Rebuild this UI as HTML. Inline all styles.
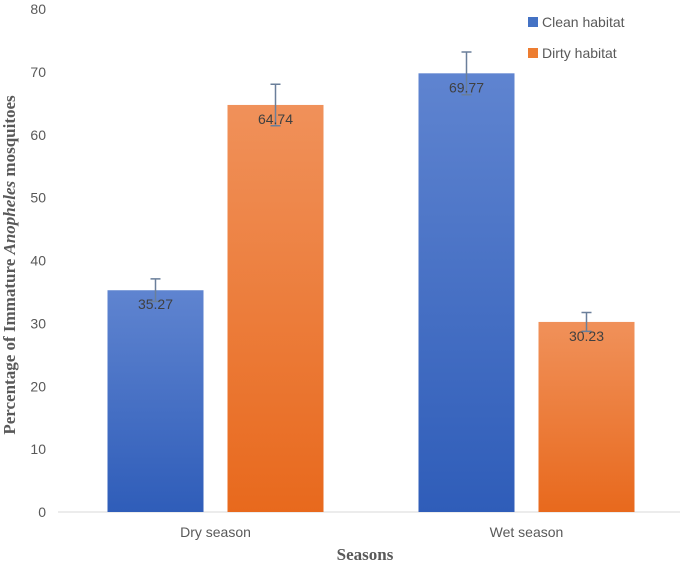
<!DOCTYPE html>
<html><head><meta charset="utf-8"><style>
body{margin:0;background:#fff;width:685px;height:569px;overflow:hidden}
svg text{font-family:"Liberation Sans",sans-serif}
</style></head><body>
<svg id="chart" width="685" height="569">
<defs>
<linearGradient id="gb" x1="0" y1="0" x2="0" y2="1"><stop offset="0" stop-color="#5f84d0"/><stop offset="1" stop-color="#2f5db9"/></linearGradient>
<linearGradient id="go" x1="0" y1="0" x2="0" y2="1"><stop offset="0" stop-color="#f0915a"/><stop offset="1" stop-color="#e8691d"/></linearGradient>
</defs>
<g id="plot"></g>
<text x="15" y="265" transform="rotate(-90 15 265)" text-anchor="middle" font-size="17" font-weight="bold" fill="#595959" style="font-family:'Liberation Serif',serif">Percentage of Immature <tspan font-style="italic">Anopheles</tspan> mosquitoes</text>
<text x="365" y="560" text-anchor="middle" font-size="17" font-weight="bold" fill="#595959" style="font-family:'Liberation Serif',serif">Seasons</text>
<rect x="528" y="17" width="10" height="10" fill="#4472c4"/>
<text x="542" y="27" font-size="14" fill="#595959">Clean habitat</text>
<rect x="528" y="48" width="10" height="10" fill="#ed7d31"/>
<text x="542" y="58" font-size="14" fill="#595959">Dirty habitat</text>
</svg>
<script>
const categories=["Dry season","Wet season"];
const cleanValues=[35.27,69.77];
const dirtyValues=[64.74,30.23];
const cleanErrors=[1.8,3.4];
const dirtyErrors=[3.3,1.5];
const yTicks=[0,10,20,30,40,50,60,70,80];
const NS="http://www.w3.org/2000/svg";
const g=document.getElementById('plot');
const y0=512,yTop=9,yMax=80,xL=58,xR=680;
const y=v=>y0-(y0-yTop)*v/yMax;
const catW=(xR-xL)/categories.length;
const cx=i=>xL+2+catW*(i+0.5);
function mk(t,a){const e=document.createElementNS(NS,t);for(const k in a)e.setAttribute(k,a[k]);g.appendChild(e);return e;}
yTicks.forEach(t=>{
 const e=mk('text',{x:46,y:y(t)+5,'text-anchor':'end','font-size':14,fill:'#595959'});
 e.textContent=t;
 
 
});
const ax=mk('line',{x1:xL,x2:xR,y1:y0,y2:y0,stroke:'#d9d9d9','stroke-width':1});


const bw=96,gap=24;
categories.forEach((c,i)=>{
 const series=[[cleanValues[i],cleanErrors[i],'url(#gb)','clean'],[dirtyValues[i],dirtyErrors[i],'url(#go)','dirty']];
 series.forEach((s,j)=>{
  const x=cx(i)-bw-gap/2+j*(bw+gap);
  const r=mk('rect',{x:x,y:y(s[0]),width:bw,height:y0-y(s[0]),fill:s[2]});
  
  
  const m=x+bw/2;
  const el=mk('path',{d:`M${m} ${y(s[0]+s[1])}V${y(s[0]-s[1])}M${m-5} ${y(s[0]+s[1])}H${m+5}M${m-5} ${y(s[0]-s[1])}H${m+5}`,stroke:'#6a7f9a','stroke-width':1.5,fill:'none'});
  
  
  const t=mk('text',{x:m,y:y(s[0])+19,'text-anchor':'middle','font-size':14,fill:'#404040'});
  t.textContent=s[0].toFixed(2);
  
  
 });
 const l=mk('text',{x:cx(i),y:537,'text-anchor':'middle','font-size':14,fill:'#595959'});
 l.textContent=c;
 
 
});
</script>
</body></html>
